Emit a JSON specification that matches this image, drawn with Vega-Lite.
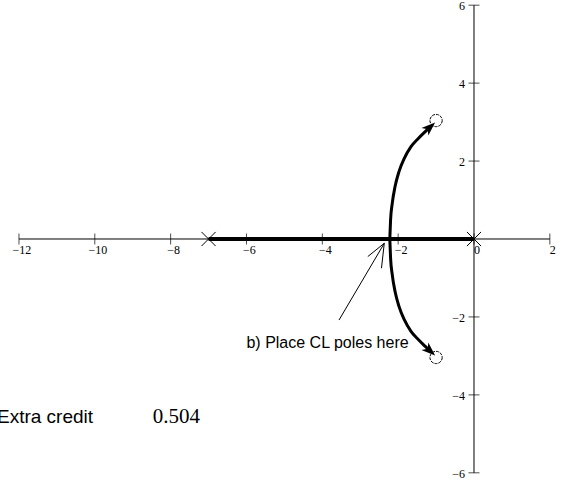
{
  "$schema": "https://vega.github.io/schema/vega-lite/v6.json",
  "width": 565,
  "height": 481,
  "autosize": {"type": "none"},
  "padding": 0,
  "background": "white",
  "config": {"view": {"stroke": null}},
  "datasets": {
    "axes": [
      {"x1": -12, "x2": 2, "y1": 0, "y2": 0},
      {"x1": 0, "x2": 0, "y1": -6, "y2": 6}
    ],
    "xticks": [
      {"v": -12, "label": "−12"},
      {"v": -10, "label": "−10"},
      {"v": -8, "label": "−8"},
      {"v": -6, "label": "−6"},
      {"v": -4, "label": "−4"},
      {"v": -2, "label": "−2"},
      {"v": 0, "label": "0"},
      {"v": 2, "label": "2"}
    ],
    "yticks": [
      {"v": -6, "label": "−6"},
      {"v": -4, "label": "−4"},
      {"v": -2, "label": "−2"},
      {"v": 2, "label": "2"},
      {"v": 4, "label": "4"},
      {"v": 6, "label": "6"}
    ],
    "realaxis": [{"x1": -7, "x2": 0, "y1": 0, "y2": 0}],
    "arc": [
      {"branch": "up", "i": 0, "x": -2.22, "y": 0},
      {"branch": "up", "i": 1, "x": -2.2, "y": 0.49},
      {"branch": "up", "i": 2, "x": -2.155, "y": 0.92},
      {"branch": "up", "i": 3, "x": -2.083, "y": 1.34},
      {"branch": "up", "i": 4, "x": -1.978, "y": 1.73},
      {"branch": "up", "i": 5, "x": -1.838, "y": 2.07},
      {"branch": "up", "i": 6, "x": -1.661, "y": 2.37},
      {"branch": "up", "i": 7, "x": -1.469, "y": 2.58},
      {"branch": "up", "i": 8, "x": -1.292, "y": 2.75},
      {"branch": "up", "i": 9, "x": -1.16, "y": 2.87},
      {"branch": "down", "i": 0, "x": -2.22, "y": 0},
      {"branch": "down", "i": 1, "x": -2.2, "y": -0.49},
      {"branch": "down", "i": 2, "x": -2.155, "y": -0.92},
      {"branch": "down", "i": 3, "x": -2.083, "y": -1.34},
      {"branch": "down", "i": 4, "x": -1.978, "y": -1.73},
      {"branch": "down", "i": 5, "x": -1.838, "y": -2.07},
      {"branch": "down", "i": 6, "x": -1.661, "y": -2.37},
      {"branch": "down", "i": 7, "x": -1.469, "y": -2.58},
      {"branch": "down", "i": 8, "x": -1.292, "y": -2.75},
      {"branch": "down", "i": 9, "x": -1.16, "y": -2.87}
    ],
    "headUp": [{"x": -1.16, "y": 2.87}],
    "headDown": [{"x": -1.16, "y": -2.87}],
    "poles": [{"x": -7, "y": 0}, {"x": 0, "y": 0}],
    "zeros": [{"x": -1, "y": 3.04}, {"x": -1, "y": -3.04}],
    "pointer": [
      {"x1": -3.56, "y1": -2.08, "x2": -2.366, "y2": -0.11},
      {"x1": -2.8, "y1": -0.45, "x2": -2.366, "y2": -0.11},
      {"x1": -2.44, "y1": -0.75, "x2": -2.366, "y2": -0.11}
    ],
    "note": [{"x": -6.0, "y": -2.8, "t": "b) Place CL poles here"}],
    "extra": [{"x": -12.58, "y": -4.72, "t": "Extra credit"}],
    "value": [{"x": -8.47, "y": -4.72, "t": "0.504"}]
  },
  "layer": [
    {
      "data": {"name": "axes"},
      "mark": {"type": "rule", "color": "black", "strokeWidth": 1},
      "encoding": {
        "x": {"field": "x1", "type": "quantitative", "scale": {"domain": [-12.5, 2.4], "nice": false, "zero": false}, "axis": null},
        "x2": {"field": "x2"},
        "y": {"field": "y1", "type": "quantitative", "scale": {"domain": [-6.21, 6.133], "nice": false, "zero": false}, "axis": null},
        "y2": {"field": "y2"}
      }
    },
    {
      "data": {"name": "xticks"},
      "mark": {"type": "tick", "orient": "vertical", "size": 11, "thickness": 1, "color": "black"},
      "encoding": {
        "x": {"field": "v", "type": "quantitative"},
        "y": {"datum": 0, "type": "quantitative"}
      }
    },
    {
      "data": {"name": "xticks"},
      "mark": {"type": "text", "font": "Liberation Serif", "fontSize": 12, "align": "center", "baseline": "middle", "dx": 3, "dy": 11, "color": "black"},
      "encoding": {
        "x": {"field": "v", "type": "quantitative"},
        "y": {"datum": 0, "type": "quantitative"},
        "text": {"field": "label"}
      }
    },
    {
      "data": {"name": "yticks"},
      "mark": {"type": "tick", "orient": "horizontal", "size": 11, "thickness": 1, "color": "black"},
      "encoding": {
        "x": {"datum": 0, "type": "quantitative"},
        "y": {"field": "v", "type": "quantitative"}
      }
    },
    {
      "data": {"name": "yticks"},
      "mark": {"type": "text", "font": "Liberation Serif", "fontSize": 12, "align": "right", "baseline": "middle", "dx": -9, "dy": 1, "color": "black"},
      "encoding": {
        "x": {"datum": 0, "type": "quantitative"},
        "y": {"field": "v", "type": "quantitative"},
        "text": {"field": "label"}
      }
    },
    {
      "data": {"name": "realaxis"},
      "mark": {"type": "rule", "color": "black", "strokeWidth": 4},
      "encoding": {
        "x": {"field": "x1", "type": "quantitative"},
        "x2": {"field": "x2"},
        "y": {"field": "y1", "type": "quantitative"},
        "y2": {"field": "y2"}
      }
    },
    {
      "data": {"name": "arc"},
      "mark": {"type": "line", "color": "black", "strokeWidth": 3, "interpolate": "monotone"},
      "encoding": {
        "x": {"field": "x", "type": "quantitative"},
        "y": {"field": "y", "type": "quantitative"},
        "order": {"field": "i", "type": "quantitative"},
        "detail": {"field": "branch"}
      }
    },
    {
      "data": {"name": "headUp"},
      "mark": {"type": "point", "shape": "M0,-1L0.75,1L0,0.45L-0.75,1Z", "size": 190, "filled": true, "color": "black", "opacity": 1, "angle": 48},
      "encoding": {
        "x": {"field": "x", "type": "quantitative"},
        "y": {"field": "y", "type": "quantitative"}
      }
    },
    {
      "data": {"name": "headDown"},
      "mark": {"type": "point", "shape": "M0,-1L0.75,1L0,0.45L-0.75,1Z", "size": 190, "filled": true, "color": "black", "opacity": 1, "angle": 132},
      "encoding": {
        "x": {"field": "x", "type": "quantitative"},
        "y": {"field": "y", "type": "quantitative"}
      }
    },
    {
      "data": {"name": "poles"},
      "mark": {"type": "point", "shape": "M-1,-1L1,1M-1,1L1,-1", "size": 200, "filled": false, "color": "black", "strokeWidth": 1, "opacity": 1},
      "encoding": {
        "x": {"field": "x", "type": "quantitative"},
        "y": {"field": "y", "type": "quantitative"}
      }
    },
    {
      "data": {"name": "zeros"},
      "mark": {"type": "point", "shape": "circle", "size": 150, "filled": false, "color": "black", "strokeWidth": 1, "strokeDash": [3, 1], "opacity": 1},
      "encoding": {
        "x": {"field": "x", "type": "quantitative"},
        "y": {"field": "y", "type": "quantitative"}
      }
    },
    {
      "data": {"name": "pointer"},
      "mark": {"type": "rule", "color": "black", "strokeWidth": 1},
      "encoding": {
        "x": {"field": "x1", "type": "quantitative"},
        "x2": {"field": "x2"},
        "y": {"field": "y1", "type": "quantitative"},
        "y2": {"field": "y2"}
      }
    },
    {
      "data": {"name": "note"},
      "mark": {"type": "text", "font": "Liberation Sans", "fontSize": 16, "align": "left", "baseline": "alphabetic", "color": "black"},
      "encoding": {
        "x": {"field": "x", "type": "quantitative"},
        "y": {"field": "y", "type": "quantitative"},
        "text": {"field": "t"}
      }
    },
    {
      "data": {"name": "extra"},
      "mark": {"type": "text", "font": "Liberation Sans", "fontSize": 19, "align": "left", "baseline": "alphabetic", "color": "black"},
      "encoding": {
        "x": {"field": "x", "type": "quantitative"},
        "y": {"field": "y", "type": "quantitative"},
        "text": {"field": "t"}
      }
    },
    {
      "data": {"name": "value"},
      "mark": {"type": "text", "font": "Liberation Serif", "fontSize": 21, "align": "left", "baseline": "alphabetic", "color": "black"},
      "encoding": {
        "x": {"field": "x", "type": "quantitative"},
        "y": {"field": "y", "type": "quantitative"},
        "text": {"field": "t"}
      }
    }
  ]
}
